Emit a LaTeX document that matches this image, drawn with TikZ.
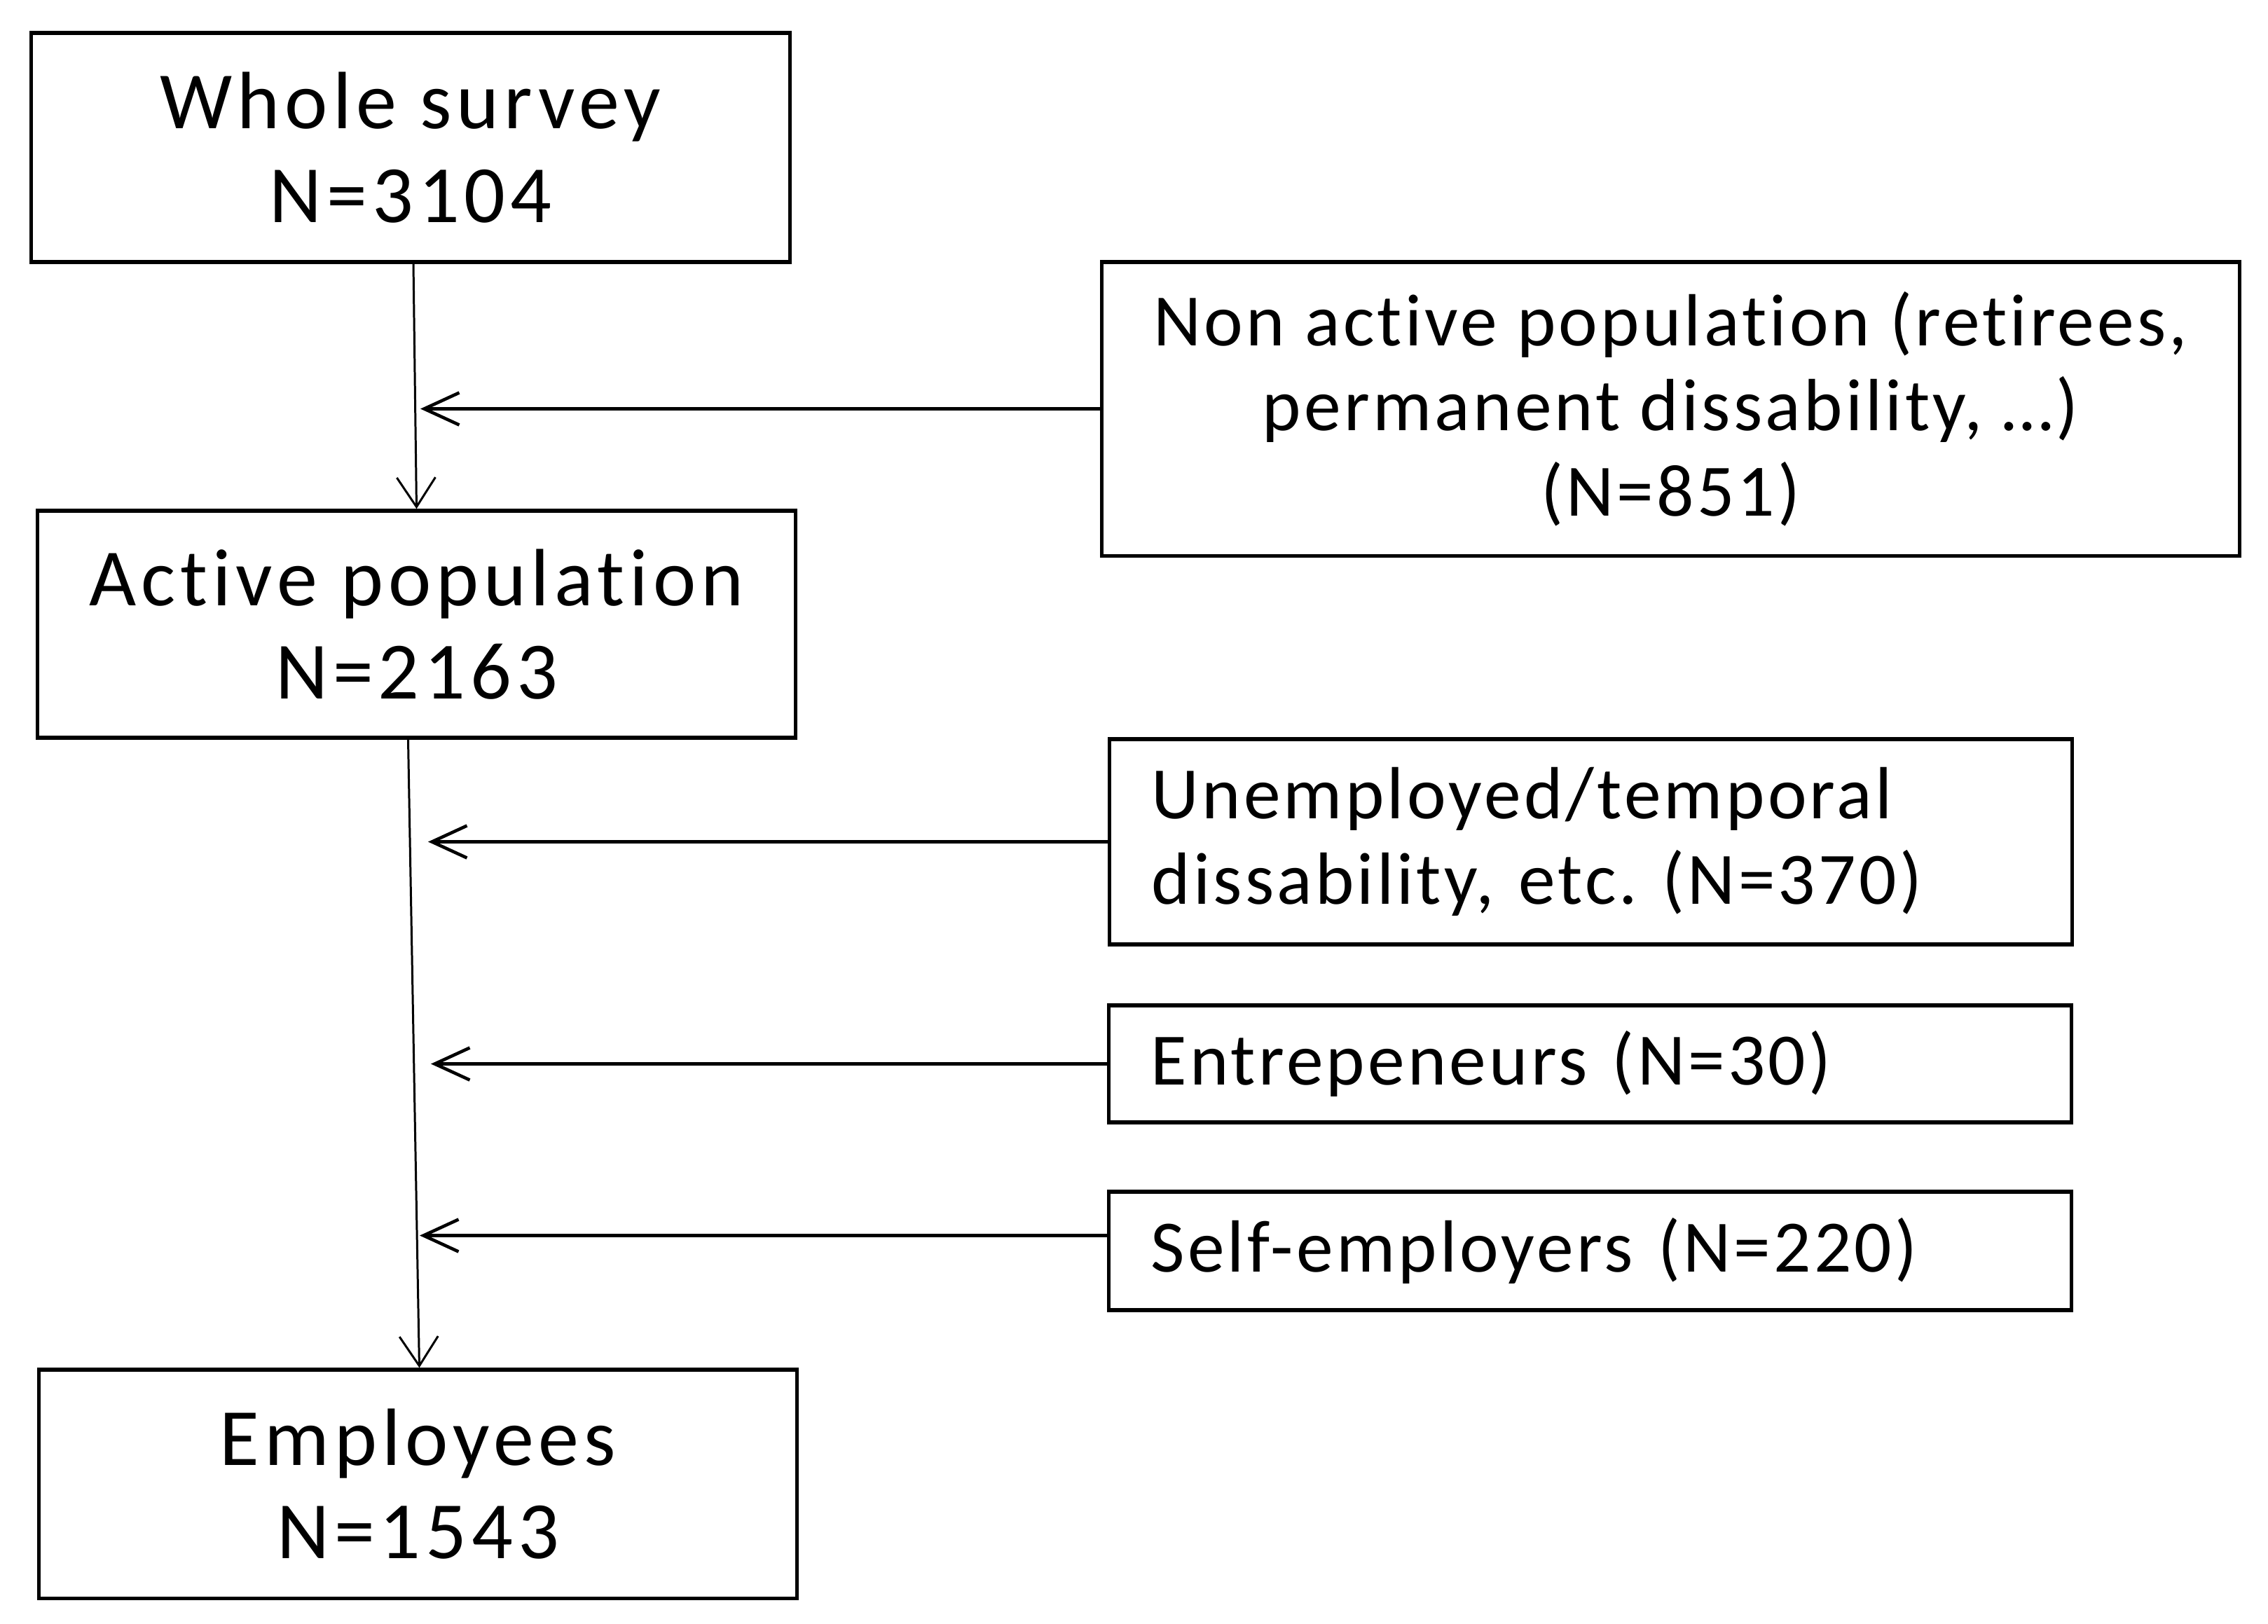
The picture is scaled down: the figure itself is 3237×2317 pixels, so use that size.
\documentclass[tikz,border=0pt]{standalone}
\usepackage{fontspec}
\setmainfont{Carlito}
\newfontfamily\mainf{Carlito}[LetterSpace=6,Ligatures=NoCommon]
\newfontfamily\sidef{Carlito}[LetterSpace=4,Ligatures=NoCommon]
\usetikzlibrary{arrows.meta}
\frenchspacing
\begin{document}
\begin{tikzpicture}[x=0.01cm,y=-0.01cm,
  mainbox/.style={draw, line width=1.5pt, align=center, inner sep=0pt,
    minimum width=10.82cm, font=\mainf\fontsize{33}{38}\selectfont},
  sidebox/.style={draw, line width=1.5pt, inner sep=0pt,
    font=\sidef\fontsize{30}{34.5}\selectfont},
  leftbox/.style={sidebox, align=left, inner xsep=0.6cm, text width=12.53cm},
  varrow/.style={line width=0.85pt, -{Straight Barb[length=0.42cm,width=0.55cm,line width=0.85pt]}},
  harrow/.style={line width=1.3pt, -{Straight Barb[length=0.5cm,width=0.46cm,line width=1.3pt]}}
]
\useasboundingbox (0,0) rectangle (3237,2317);
\node[mainbox, minimum height=3.27cm] (ws) at (586,210.5) {Whole survey\\N=3104};
\node[mainbox, minimum height=3.24cm] (act) at (594.5,891) {Active population\\N=2163};
\node[mainbox, minimum height=3.26cm] (emp) at (596.5,2118) {Employees\\N=1543};
\node[sidebox, align=center, minimum width=16.23cm, minimum height=4.19cm] (na) at (2384.5,583.5)
  {Non active population (retirees,\\permanent dissability, \dots)\\(N=851)};
\node[leftbox, minimum height=2.93cm] (un) at (2270.5,1201.5)
  {Unemployed/temporal\\dissability, etc. (N=370)};
\node[leftbox, minimum height=1.67cm] (en) at (2269.5,1518.5) {Entrepeneurs (N=30)};
\node[leftbox, minimum height=1.69cm] (se) at (2269.5,1785.5) {Self-employers (N=220)};
\coordinate (t1) at (600,0);
\coordinate (t2) at (611,0);
\coordinate (t3) at (615,0);
\coordinate (t4) at (599,0);
\draw[varrow] ([xshift=0.04cm]ws.south) -- (act.north);
\draw[varrow] ([xshift=-0.12cm]act.south) -- ([xshift=0.02cm]emp.north);
\draw[harrow] (na.west) -- (na.west -| t1);
\draw[harrow] (un.west) -- (un.west -| t2);
\draw[harrow] (en.west) -- (en.west -| t3);
\draw[harrow] ([yshift=0.22cm]se.west) -- ([yshift=0.22cm]se.west -| t4);
\end{tikzpicture}
\end{document}
